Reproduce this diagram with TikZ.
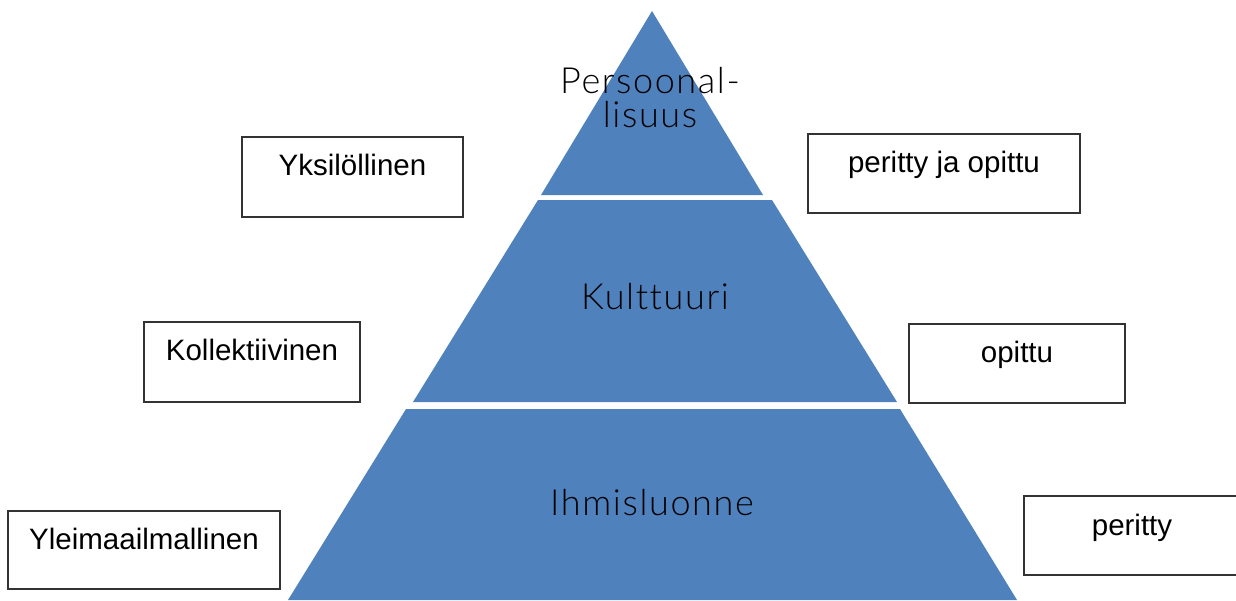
\documentclass[tikz,border=0pt]{standalone}
\usepackage{fontspec}
\setmainfont{Liberation Sans}
\newfontfamily\pyrfont[LetterSpace=4.5,Ligatures=NoCommon]{Lato Light}
\definecolor{pyrblue}{HTML}{4F81BD}
\begin{document}
\begin{tikzpicture}[x=1pt,y=-1pt,
  layer/.style={fill=pyrblue,draw=none},
  sidebox/.style={draw=black!80,line width=1.2pt,fill=white},
  boxtext/.style={font=\fontsize{29.5}{34}\selectfont,anchor=base,inner sep=0pt},
  pyrtext/.style={font=\pyrfont\fontsize{36}{34}\selectfont,anchor=base,inner sep=0pt,align=center}]
\useasboundingbox (0,0) rectangle (1236,600);
% pyramid layers
\fill[layer] (652,11) -- (763,195) -- (541,195) -- cycle;
\fill[layer] (538,200) -- (772,200) -- (897,402) -- (413,402) -- cycle;
\fill[layer] (406,409) -- (900,409) -- (1017,600) -- (288,600) -- cycle;
% pyramid labels
\node[pyrtext] (pers) at (650,93) {Persoonal-};
\node[pyrtext] (lis) at (650,127) {lisuus};
\node[pyrtext] (kult) at (655,309) {Kulttuuri};
\node[pyrtext] (ihm) at (652,515) {Ihmisluonne};
% side boxes
\draw[sidebox] (242,137) rectangle (463,217);
\node[boxtext] (yks) at (352.5,175) {Yksilöllinen};
\draw[sidebox] (144,322) rectangle (360,402);
\node[boxtext] (kol) at (252,360) {Kollektiivinen};
\draw[sidebox] (8,511) rectangle (280,589);
\node[boxtext] (yle) at (144,549) {Yleimaailmallinen};
\draw[sidebox] (808,134) rectangle (1080,213);
\node[boxtext] (pjo) at (944,172) {peritty ja opittu};
\draw[sidebox] (909,324) rectangle (1125,403);
\node[boxtext] (opi) at (1017,362) {opittu};
\draw[sidebox] (1024,496) rectangle (1242,575);
\node[boxtext] (per) at (1132,535) {peritty};
\end{tikzpicture}
\end{document}
